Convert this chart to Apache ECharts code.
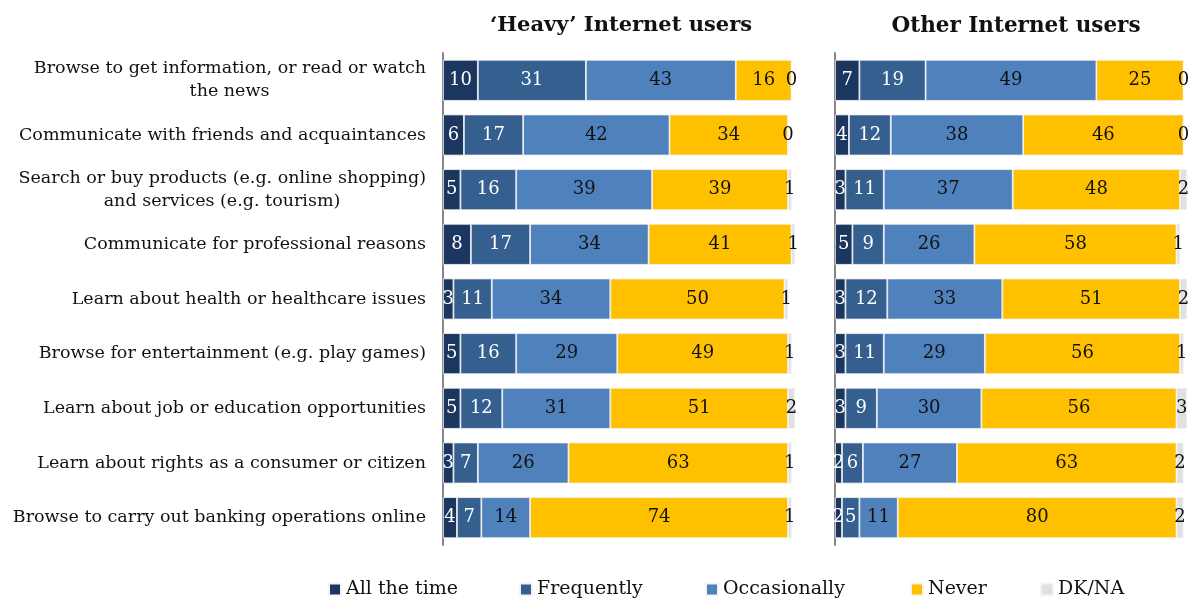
<!DOCTYPE html>
<html>
<head>
<meta charset="utf-8">
<script src="https://cdn.jsdelivr.net/npm/echarts@6/dist/echarts.min.js"></script>
<style>
html,body{margin:0;padding:0;background:#fff;}
#chart{width:1192px;height:599px;}
</style>
</head>
<body>
<div id="chart"></div>
<script>
const categories = [
  "Browse to get information, or read or watch\nthe news",
  "Communicate with friends and acquaintances",
  "Search or buy products (e.g. online shopping)\nand services (e.g. tourism)",
  "Communicate for professional reasons",
  "Learn about health or healthcare issues",
  "Browse for entertainment (e.g. play games)",
  "Learn about job or education opportunities",
  "Learn about rights as a consumer or citizen",
  "Browse to carry out banking operations online"
];
const seriesNames = ["All the time", "Frequently", "Occasionally", "Never", "DK/NA"];
const panelTitles = ["\u2018Heavy\u2019 Internet users", "Other Internet users"];

// Heavy users
const heavyAllTheTime  = [10, 6, 5, 8, 3, 5, 5, 3, 4];
const heavyFrequently  = [31, 17, 16, 17, 11, 16, 12, 7, 7];
const heavyOccasionally= [43, 42, 39, 34, 34, 29, 31, 26, 14];
const heavyNever       = [16, 34, 39, 41, 50, 49, 51, 63, 74];
const heavyDKNA        = [0, 0, 1, 1, 1, 1, 2, 1, 1];

// Other users
const otherAllTheTime  = [7, 4, 3, 5, 3, 3, 3, 2, 2];
const otherFrequently  = [19, 12, 11, 9, 12, 11, 9, 6, 5];
const otherOccasionally= [49, 38, 37, 26, 33, 29, 30, 27, 11];
const otherNever       = [25, 46, 48, 58, 51, 56, 56, 63, 80];
const otherDKNA        = [0, 0, 2, 1, 2, 1, 3, 2, 2];

const colors = ["#1b365f", "#355f8f", "#4f81bd", "#ffc000", "#e0e0e0"];
const labelColors = ["#fff", "#fff", "#111", "#111", "#111"];
const legendLefts = [323, 514, 700, 905, 1035];
const FONT = '"DejaVu Serif", Georgia, serif';
const labelSize = 17.5;

// measure widths for centering second lines of two-line labels
const ctx = document.createElement('canvas').getContext('2d');
ctx.font = labelSize + 'px ' + FONT;
const rich = {};
categories.forEach((c, i) => {
  const parts = c.split('\n');
  if (parts.length > 1) {
    rich['c' + i] = {width: Math.ceil(ctx.measureText(parts[0]).width), align: 'center',
      fontSize: labelSize, fontFamily: FONT, color: '#111', lineHeight: 23};
  }
});

const chart = echarts.init(document.getElementById('chart'));
const heavy = [heavyAllTheTime, heavyFrequently, heavyOccasionally, heavyNever, heavyDKNA];
const other = [otherAllTheTime, otherFrequently, otherOccasionally, otherNever, otherDKNA];

function makeSeries(data, idx) {
  return data.map((d, k) => ({
    name: seriesNames[k], type: 'bar', stack: 's' + idx,
    xAxisIndex: idx, yAxisIndex: idx, barWidth: 41,
    itemStyle: {color: colors[k], borderColor: '#f4f4f4', borderWidth: 0.8},
    label: {show: true, position: 'inside', color: labelColors[k], fontFamily: FONT, fontSize: 18},
    data: d
  }));
}

const yAxisCommon = {
  type: 'category', data: categories, inverse: true,
  axisLine: {lineStyle: {color: '#868686', width: 2}},
  axisTick: {length: 5, lineStyle: {color: '#868686', width: 2}},
};

chart.setOption({
  animation: false,
  color: colors,
  title: [
    {text: panelTitles[0], left: 616, top: 10, textAlign: 'center',
     textStyle: {fontFamily: FONT, fontSize: 21, fontWeight: 'bold', color: '#111'}},
    {text: panelTitles[1], left: 1011, top: 10, textAlign: 'center',
     textStyle: {fontFamily: FONT, fontSize: 21.5, fontWeight: 'bold', color: '#111'}}
  ],
  legend: seriesNames.map((n, k) => ({
    data: [n], left: legendLefts[k], top: 575, icon: 'rect', itemWidth: 12, itemHeight: 12,
    itemGap: 4, textStyle: {fontFamily: FONT, fontSize: 19, color: '#111'}
  })),
  grid: [
    {left: 443, width: 352, top: 53, bottom: 54},
    {left: 835, width: 352, top: 53, bottom: 54}
  ],
  xAxis: [
    {gridIndex: 0, type: 'value', min: 0, max: 101, show: false},
    {gridIndex: 1, type: 'value', min: 0, max: 101, show: false}
  ],
  yAxis: [
    Object.assign({gridIndex: 0}, yAxisCommon, {
      axisLabel: {margin: 17, color: '#111', fontFamily: FONT, fontSize: labelSize, lineHeight: 23,
        rich: rich,
        formatter: (v, i) => {
          const p = v.split('\n');
          return p.length > 1 ? p[0] + '\n{c' + i + '|' + p[1] + '}' : v;
        }}
    }),
    Object.assign({gridIndex: 1}, yAxisCommon, {axisLabel: {show: false}})
  ],
  series: makeSeries(heavy, 0).concat(makeSeries(other, 1))
});
</script>
</body>
</html>
